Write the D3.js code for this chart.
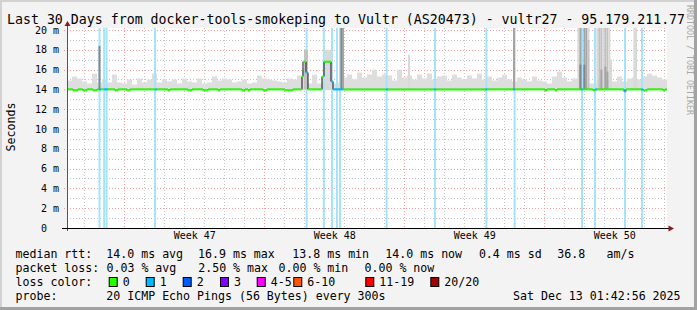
<!DOCTYPE html>
<html lang="en">
<head>
<meta charset="utf-8">
<style>
    html, body { margin: 0; padding: 0; background: #f3f3f3; }
    svg { display: block; }
    text { font-family: "DejaVu Sans Mono", monospace; white-space: pre; }
</style>
</head>
<body>
<svg id="chart" width="697" height="310"></svg>
<script src="https://d3js.org/d3.v7.min.js"></script>
<script>
    var titleText = "Last 30 Days from docker-tools-smokeping to Vultr (AS20473) - vultr27 - 95.179.211.77";
    var startTime = Date.UTC(2025, 10, 13, 3, 15);   // left edge of the plot
    var spanDays = 30;
    var yMax = 20.2;
    var yTicks = [0, 2, 4, 6, 8, 10, 12, 14, 16, 18, 20];

    // light smoke, max rtt (ms) per 6 hour slot
    var smokeStep = 0.25;
    var smokeTop = [
        14.9, 15.3, 15.1, 14.8, 14.6, 15.6, 14.7, 15.0, 14.7, 15.5,
        14.7, 14.6, 15.0, 14.5, 15.1, 14.7, 15.0, 15.6, 14.7, 15.0,
        14.8, 15.0, 14.6, 15.1, 14.8, 14.7, 15.1, 14.6, 14.7, 15.3,
        14.9, 15.1, 15.0, 14.7, 14.8, 15.0, 14.6, 14.7, 15.4, 15.1,
        15.0, 14.9, 14.8, 14.7, 15.1, 15.0, 15.4, 16.0, 14.6, 15.5,
        14.6, 14.8, 14.8, 14.6, 14.7, 15.2, 15.5, 15.0, 15.7, 15.2,
        15.5, 16.0, 15.3, 15.5, 15.4, 14.9, 16.0, 15.2, 15.4, 15.0,
        15.5, 15.1, 15.6, 15.0, 15.3, 15.4, 14.9, 15.5, 15.2, 15.0,
        15.4, 15.1, 15.6, 15.0, 15.3, 14.9, 15.2, 15.5, 15.0, 14.8,
        15.2, 15.0, 14.8, 15.3, 14.9, 14.8, 14.6, 15.3, 15.8, 15.2,
        14.8, 15.1, 15.0, 15.0, 14.6, 14.6, 15.0, 15.0, 15.0, 14.8,
        15.3, 14.8, 15.1, 15.2, 15.0, 15.3, 15.6, 15.4, 15.2, 15.0
    ];

    // heavier smoke (day offset, top in ms, density level 1..4)
    var spikeStep = 0.1;
    var spikeDay   = [1.625, 11.9, 12.0, 12.95, 13.05, 13.15, 13.22, 13.72, 13.8, 17.1, 22.35,
                      25.57, 25.67, 25.87, 25.97, 26.07, 26.07, 25.67, 25.87,
                      26.52, 26.62, 26.72, 26.82, 26.92, 27.02, 27.12, 27.2, 26.72, 26.92, 27.02,
                      28.37, 28.45];
    var spikeTop   = [18.4, 18.0, 18.0, 18.0, 18.0, 18.0, 17.5, 20.2, 20.2, 17.5, 20.2,
                      20.2, 20.2, 20.2, 20.2, 20.2, 19.0, 16.5, 16.5,
                      20.2, 20.2, 20.2, 20.2, 20.2, 20.2, 20.2, 17.0, 16.0, 16.3, 15.8,
                      20.2, 20.2];
    var spikeLevel = [4, 2, 2, 1, 1, 1, 1, 4, 3, 1, 3,
                      1, 3, 3, 3, 1, 2, 4, 4,
                      1, 2, 2, 1, 2, 2, 1, 1, 3, 3, 3,
                      1, 1];

    // samples with packet loss (day offsets)
    var lossStep = 0.1;
    var lossDays = [1.625, 1.86, 1.98, 4.4, 11.98, 12.84, 13.25, 13.5, 13.65, 15.98,
                    18.4, 20.97, 22.38, 25.75, 26.4, 27.9, 28.75];

    // median rtt as steps: start day, ms, lost pings
    var medStart = [0, 0.3, 0.55, 0.8, 1.0, 1.3, 1.5, 1.6, 1.7, 1.85, 2.05, 2.4, 2.55, 3.0, 3.15,
                    4.4, 4.5, 5.05, 5.15, 6.05, 6.25, 6.8, 7.05, 7.55, 7.65, 8.75, 8.9, 9.05, 9.15,
                    9.8, 10.0, 10.9, 11.3, 11.75, 11.8, 11.95, 12.05, 12.75, 12.85, 13.2, 13.3, 13.8,
                    15.95, 16.05, 18.35, 18.45, 20.9, 21.0, 22.3, 22.4, 23.9, 24.0, 24.4, 24.5,
                    25.7, 25.8, 26.3, 26.4, 26.5, 27.85, 27.95, 28.7, 28.8, 29.0, 29.8, 29.9];
    var medValue = [14.0, 13.9, 14.0, 13.9, 14.0, 13.9, 14.0, 14.0, 14.0, 14.0, 14.0, 13.9, 14.0, 13.9, 14.0,
                    14.0, 14.0, 13.9, 14.0, 13.9, 14.0, 13.9, 14.0, 13.9, 14.0, 13.9, 14.0, 13.9, 14.0,
                    13.9, 14.0, 13.9, 14.0, 15.3, 16.8, 15.7, 14.0, 15.3, 16.8, 14.8, 14.0, 14.0,
                    14.0, 14.0, 14.0, 14.0, 14.0, 14.0, 14.0, 14.0, 13.9, 14.0, 13.9, 14.0,
                    14.0, 14.0, 13.9, 14.0, 14.0, 13.8, 14.0, 14.0, 13.9, 14.0, 13.9, 14.0];
    var medLoss  = [0, 0, 0, 0, 0, 0, 0, 1, 0, 1, 0, 0, 0, 0, 0,
                    1, 0, 0, 0, 0, 0, 0, 0, 0, 0, 0, 0, 0, 0,
                    0, 0, 0, 0, 0, 0, 1, 0, 0, 0, 1, 1, 0,
                    1, 0, 1, 0, 1, 0, 1, 0, 0, 0, 0, 0,
                    1, 0, 0, 1, 0, 1, 0, 1, 0, 0, 0, 0];

    var lossLabels = ["0", "1", "2", "3", "4-5", "6-10", "11-19", "20/20"];
    var lossColors = ["#26ff00", "#00b8ff", "#0059ff", "#7e00ff", "#ff00ff", "#ff5500", "#ff0000", "#a10000"];

    var rttStats  = ["14.0 ms avg", "16.9 ms max", "13.8 ms min", "14.0 ms now", "0.4 ms sd", "36.8", "am/s"];
    var lossStats = ["0.03 % avg", "2.50 % max", "0.00 % min", "0.00 % now"];
    var probeText = "20 ICMP Echo Pings (56 Bytes) every 300s";
    var stampText = "Sat Dec 13 01:42:56 2025";

    var svg = d3.select("#chart");
    var W = 697, H = 310;
    var pLeft = 67, pRight = 667, pTop = 28, pBottom = 228;

    function day(d) { return new Date(startTime + d * 864e5); }

    var x = d3.scaleUtc().domain([day(0), day(spanDays)]).range([pLeft, pRight]);
    var y = d3.scaleLinear().domain([0, yMax]).range([pBottom, pTop]);

    // frame
    svg.append("rect").attr("width", W).attr("height", H).attr("fill", "#f3f3f3");
    svg.append("rect").attr("x", 0).attr("y", 0).attr("width", W).attr("height", 2).attr("fill", "#d2d2d2");
    svg.append("rect").attr("x", 0).attr("y", 0).attr("width", 2).attr("height", H).attr("fill", "#d2d2d2");
    svg.append("rect").attr("x", W - 3).attr("y", 0).attr("width", 3).attr("height", H).attr("fill", "#a2a2a2");
    svg.append("rect").attr("x", 0).attr("y", H - 3).attr("width", W).attr("height", 3).attr("fill", "#a2a2a2");

    svg.append("rect").attr("x", pLeft).attr("y", pTop)
        .attr("width", pRight - pLeft).attr("height", pBottom - pTop).attr("fill", "#fff");

    svg.append("defs").append("clipPath").attr("id", "plot")
        .append("rect").attr("x", pLeft).attr("y", pTop)
        .attr("width", pRight - pLeft).attr("height", pBottom - pTop);

    // grid
    var grid = svg.append("g");
    var days = d3.utcDay.range(day(0), day(spanDays)).filter(function (d) { return d.getUTCDay() !== 0; });
    var weeks = d3.utcSunday.range(day(0), day(spanDays));
    grid.selectAll(".vmin").data(days).enter().append("line")
        .attr("x1", function (d) { return Math.round(x(d)) + 0.5; })
        .attr("x2", function (d) { return Math.round(x(d)) + 0.5; })
        .attr("y1", pTop).attr("y2", pBottom)
        .attr("stroke", "#c4c4c4").attr("stroke-dasharray", "1,2");
    d3.range(1, 21, 2).forEach(function (v) {
        grid.append("line").attr("x1", pLeft).attr("x2", pRight)
            .attr("y1", Math.round(y(v)) + 0.5).attr("y2", Math.round(y(v)) + 0.5)
            .attr("stroke", "#c4c4c4").attr("stroke-dasharray", "1,2");
    });
    grid.selectAll(".vmaj").data(weeks).enter().append("line")
        .attr("x1", function (d) { return Math.round(x(d)) + 0.5; })
        .attr("x2", function (d) { return Math.round(x(d)) + 0.5; })
        .attr("y1", pTop).attr("y2", pBottom)
        .attr("stroke", "#f0a0a0").attr("stroke-dasharray", "1,2");
    yTicks.slice(1).forEach(function (v) {
        grid.append("line").attr("x1", 64).attr("x2", pRight)
            .attr("y1", Math.round(y(v)) + 0.5).attr("y2", Math.round(y(v)) + 0.5)
            .attr("stroke", "#f0a0a0").attr("stroke-dasharray", "1,2");
    });

    var plot = svg.append("g").attr("clip-path", "url(#plot)");

    // smoke
    plot.selectAll(".smoke").data(smokeTop).enter().append("rect")
        .attr("x", function (d, i) { return x(day(i * smokeStep)); })
        .attr("width", function (d, i) { return x(day((i + 1) * smokeStep)) - x(day(i * smokeStep)); })
        .attr("y", function (d) { return y(d); })
        .attr("height", function (d) { return y(13.9) - y(d); })
        .attr("fill", "#dedede");

    // loss bars
    plot.selectAll(".loss").data(lossDays).enter().append("rect")
        .attr("x", function (d) { return x(day(d - lossStep / 2)); })
        .attr("width", function (d) { return x(day(d + lossStep / 2)) - x(day(d - lossStep / 2)); })
        .attr("y", pTop).attr("height", pBottom - pTop)
        .attr("fill", "#a5e3f9");

    // heavy smoke
    var shade = d3.scaleOrdinal().domain([1, 2, 3, 4]).range(["#d9d9d9", "#c2c2c2", "#a4a4a4", "#868686"]);
    plot.selectAll(".spike").data(spikeDay).enter().append("rect")
        .attr("x", function (d) { return x(day(d - spikeStep / 2)); })
        .attr("width", function (d) { return x(day(d + spikeStep / 2)) - x(day(d - spikeStep / 2)); })
        .attr("y", function (d, i) { return y(spikeTop[i]); })
        .attr("height", function (d, i) { return y(14.0) - y(spikeTop[i]); })
        .attr("fill", function (d, i) { return shade(spikeLevel[i]); });

    // median line
    var steps = medStart.map(function (d, i) { return [d, medValue[i]]; });
    steps.push([spanDays, medValue[medValue.length - 1]]);
    plot.append("path").datum(steps)
        .attr("d", d3.line().curve(d3.curveStepAfter)
            .x(function (d) { return x(day(d[0])); })
            .y(function (d) { return y(d[1]); }))
        .attr("fill", "none").attr("stroke", "#111").attr("stroke-width", 1);
    plot.selectAll(".med").data(medStart).enter().append("line")
        .attr("x1", function (d) { return x(day(d)); })
        .attr("x2", function (d, i) { return x(day(i + 1 < medStart.length ? medStart[i + 1] : spanDays)); })
        .attr("y1", function (d, i) { return y(medValue[i]); })
        .attr("y2", function (d, i) { return y(medValue[i]); })
        .attr("stroke", function (d, i) { return lossColors[medLoss[i]]; })
        .attr("stroke-width", 2);

    // axes
    var weekMid = weeks.map(function (d) { return d3.utcHour.offset(d, 84); })
        .filter(function (d) { return d < day(spanDays); });
    svg.append("g").attr("transform", "translate(0," + (pBottom + 2) + ")")
        .call(d3.axisBottom(x).tickValues(weekMid).tickSize(0).tickPadding(2)
            .tickFormat(function (d) { return "Week " + d3.utcFormat("%V")(d); }))
        .call(function (g) { g.select(".domain").remove(); })
        .selectAll("text").attr("font-size", "10px").attr("font-family", "DejaVu Sans Mono").attr("fill", "#000");

    svg.append("g").attr("transform", "translate(59,0)")
        .call(d3.axisLeft(y).tickValues(yTicks).tickSize(0).tickPadding(0)
            .tickFormat(function (d) { return d === 0 ? "0  " : d + " m"; }))
        .call(function (g) { g.select(".domain").remove(); })
        .selectAll("text").attr("font-size", "10px").attr("font-family", "DejaVu Sans Mono").attr("fill", "#000");

    svg.append("line").attr("x1", pLeft + 0.5).attr("x2", pLeft + 0.5).attr("y1", pBottom + 3).attr("y2", 25)
        .attr("stroke", "#555");
    svg.append("line").attr("x1", 62).attr("x2", 670).attr("y1", pBottom + 0.5).attr("y2", pBottom + 0.5)
        .attr("stroke", "#000");
    svg.append("path").attr("d", "M64.5,26 L67.5,21 L70.5,26 Z").attr("fill", "#8b1a1a");
    svg.append("path").attr("d", "M668.5,225.5 L674,228.5 L668.5,231.5 Z").attr("fill", "#8b1a1a");

    // titles
    svg.append("text").attr("x", 7).attr("y", 24).attr("font-size", "13.25px").attr("fill", "#000").text(titleText);
    svg.append("text").attr("transform", "translate(14.5,127) rotate(-90)").attr("text-anchor", "middle")
        .attr("font-size", "11.6px").attr("fill", "#000").text("Seconds");
    svg.append("text").attr("transform", "translate(686.5,5) rotate(90)")
        .attr("font-size", "8.3px").attr("fill", "#a8a8a8").text("RRDTOOL / TOBI OETIKER");

    // legend
    var leg = svg.append("g").attr("font-size", "11.6px").attr("fill", "#000");
    var rowY = [257.5, 271.7, 285.9, 300.1];
    function put(tx, px, py) { leg.append("text").attr("x", px).attr("y", py).text(tx); }

    put("median rtt:", 15.5, rowY[0]);
    [106.3, 198, 292.3, 385.3, 478.9, 557.3, 606.5].forEach(function (px, i) { put(rttStats[i], px, rowY[0]); });
    put("packet loss:", 15.5, rowY[1]);
    [106.5, 198.2, 278.5, 364.5].forEach(function (px, i) { put(lossStats[i], px, rowY[1]); });
    put("loss color:", 15.5, rowY[2]);
    var boxX = [108.7, 145.7, 182.7, 220, 256.7, 293.3, 365.3, 430.3];
    lossLabels.forEach(function (lab, i) {
        leg.append("rect").attr("x", boxX[i] + 0.5).attr("y", 277.5).attr("width", 8).attr("height", 9)
            .attr("fill", lossColors[i]).attr("stroke", "#000").attr("stroke-width", 1);
        put(lab, boxX[i] + 14, rowY[2]);
    });
    put("probe:", 15.5, rowY[3]);
    put(probeText, 106.3, rowY[3]);
    put(stampText, 513, rowY[3]);
</script>
</body>
</html>
